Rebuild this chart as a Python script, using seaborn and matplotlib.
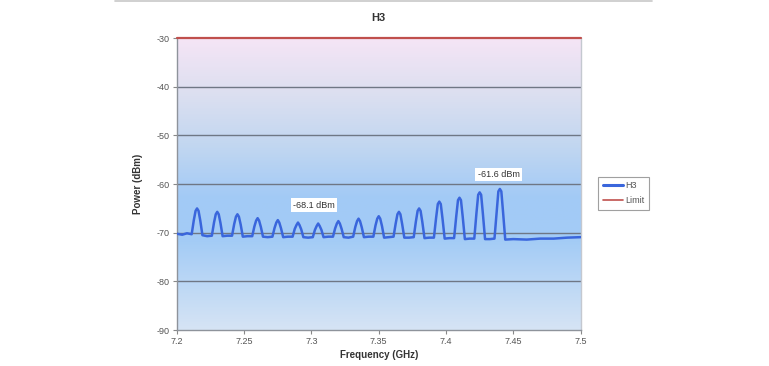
import numpy as np
import pandas as pd
import matplotlib
matplotlib.use("Agg")
import matplotlib.pyplot as plt
from matplotlib.colors import LinearSegmentedColormap
from matplotlib.lines import Line2D
import seaborn as sns

# H3 trace (GHz, dBm)
freq = [
    7.2000, 7.2040, 7.2075,
    7.2110, 7.2126, 7.2139, 7.2150, 7.2161, 7.2174, 7.2190, 7.2225,
    7.2260, 7.2276, 7.2289, 7.2300, 7.2311, 7.2324, 7.2340, 7.2375,
    7.2410, 7.2426, 7.2439, 7.2450, 7.2461, 7.2474, 7.2490, 7.2525,
    7.2560, 7.2576, 7.2589, 7.2600, 7.2611, 7.2624, 7.2640, 7.2675,
    7.2710, 7.2726, 7.2739, 7.2750, 7.2761, 7.2774, 7.2790, 7.2825,
    7.2860, 7.2876, 7.2889, 7.2900, 7.2911, 7.2924, 7.2940, 7.2975,
    7.3010, 7.3026, 7.3039, 7.3050, 7.3061, 7.3074, 7.3090, 7.3125,
    7.3160, 7.3176, 7.3189, 7.3200, 7.3211, 7.3224, 7.3240, 7.3275,
    7.3310, 7.3326, 7.3339, 7.3350, 7.3361, 7.3374, 7.3390, 7.3425,
    7.3460, 7.3476, 7.3489, 7.3500, 7.3511, 7.3524, 7.3540, 7.3575,
    7.3610, 7.3626, 7.3639, 7.3650, 7.3661, 7.3674, 7.3690, 7.3725,
    7.3760, 7.3776, 7.3789, 7.3800, 7.3811, 7.3824, 7.3840, 7.3875,
    7.3910, 7.3926, 7.3939, 7.3950, 7.3961, 7.3974, 7.3990, 7.4025,
    7.4060, 7.4076, 7.4089, 7.4100, 7.4111, 7.4124, 7.4140, 7.4175,
    7.4210, 7.4226, 7.4239, 7.4250, 7.4261, 7.4274, 7.4290, 7.4325,
    7.4360, 7.4376, 7.4389, 7.4400, 7.4411, 7.4424, 7.4440,
    7.4500, 7.4600, 7.4700, 7.4800, 7.4900, 7.5000,
]
power = [
    -70.2, -70.4, -70.1,
    -70.3, -67.4, -65.5, -65.0, -65.5, -67.5, -70.5, -70.7,
    -70.6, -67.9, -66.2, -65.7, -66.2, -68.0, -70.7, -70.6,
    -70.6, -68.2, -66.7, -66.2, -66.7, -68.3, -70.8, -70.7,
    -70.7, -68.7, -67.5, -67.0, -67.5, -68.8, -70.8, -70.9,
    -70.8, -69.0, -67.9, -67.4, -67.9, -69.1, -70.9, -70.8,
    -70.8, -69.2, -68.4, -67.9, -68.4, -69.3, -70.9, -71.0,
    -70.9, -69.4, -68.6, -68.1, -68.6, -69.4, -70.9, -70.8,
    -70.8, -69.1, -68.1, -67.6, -68.1, -69.2, -70.9, -71.0,
    -70.8, -68.8, -67.6, -67.1, -67.6, -68.9, -70.9, -70.8,
    -70.8, -68.5, -67.1, -66.6, -67.1, -68.6, -71.0, -70.9,
    -70.8, -68.1, -66.2, -65.7, -66.2, -68.2, -71.0, -71.0,
    -70.9, -67.7, -65.5, -65.0, -65.5, -67.8, -71.1, -71.0,
    -71.0, -67.0, -64.1, -63.6, -64.1, -67.1, -71.2, -71.1,
    -71.1, -66.6, -63.3, -62.8, -63.3, -66.7, -71.3, -71.2,
    -71.2, -66.0, -62.2, -61.7, -62.2, -66.1, -71.3, -71.3,
    -71.2, -65.7, -61.5, -61.0, -61.5, -65.8, -71.4,
    -71.3, -71.4, -71.2, -71.2, -71.0, -70.9,
]
limit_freq = [7.2, 7.5]
limit_power = [-30, -30]

x_ticks = [7.2, 7.25, 7.3, 7.35, 7.4, 7.45, 7.5]
x_tick_labels = ["7.2", "7.25", "7.3", "7.35", "7.4", "7.45", "7.5"]
y_ticks = [-90, -80, -70, -60, -50, -40, -30]

notes = [("-68.1 dBm", 7.2865, -64.3), ("-61.6 dBm", 7.4235, -58.0)]

trace = pd.DataFrame({"Frequency": freq, "Power": power})
limit = pd.DataFrame({"Frequency": limit_freq, "Power": limit_power})

sns.set_style("white")
plt.rcParams["font.family"] = ["Liberation Sans", "DejaVu Sans"]
plt.rcParams["axes.unicode_minus"] = False

fig = plt.figure(figsize=(7.69, 3.66), dpi=100)
ax = fig.add_axes([0.230, 0.098, 0.525, 0.798])

# background gradient (pink at top -> blue -> pale blue at bottom)
bg = LinearSegmentedColormap.from_list("bg", [
    (0.00, "#d6e4f4"), (0.30, "#a4ccf6"), (0.45, "#a2caf6"),
    (0.62, "#c0d6f1"), (0.80, "#dbdff0"), (1.00, "#f6e5f6")])
ax.imshow(np.linspace(0, 1, 256).reshape(-1, 1), cmap=bg, aspect="auto",
          extent=[7.2, 7.5, -90, -30], origin="lower", zorder=0)

for yv in y_ticks[1:-1]:
    ax.axhline(yv, color="#6f7785", lw=1.0, zorder=1)

sns.lineplot(data=trace, x="Frequency", y="Power", ax=ax, color="#3a66dc",
             lw=1.8, sort=False, zorder=3)
sns.lineplot(data=limit, x="Frequency", y="Power", ax=ax, color="#c0504d",
             lw=1.6, zorder=4, clip_on=False)

for text, xv, yv in notes:
    ax.text(xv, yv, text, fontsize=6.5, color="#333333", va="center", ha="left",
            bbox=dict(boxstyle="square,pad=0.25", fc="white", ec="none"), zorder=5)

ax.set_xlim(7.2, 7.5)
ax.set_ylim(-90, -30)
ax.set_xticks(x_ticks)
ax.set_xticklabels(x_tick_labels)
ax.set_yticks(y_ticks)
ax.tick_params(axis="both", labelsize=6.5, labelcolor="#555555", length=3,
               color="#888888", width=0.8, direction="out", pad=2,
               bottom=True, left=True)
for name, sp in ax.spines.items():
    sp.set_color("#8e939b")
    sp.set_linewidth(1.0)
ax.spines["right"].set_color("#c4c8d0")
ax.spines["top"].set_visible(False)

ax.set_xlabel("Frequency (GHz)", fontsize=7, fontweight="bold", color="#333333", labelpad=3)
ax.set_ylabel("Power (dBm)", fontsize=7, fontweight="bold", color="#333333", labelpad=10)
ax.set_title("H3", fontsize=8, fontweight="bold", color="#333333", pad=12)

handles = [Line2D([], [], color="#3a66dc", lw=2.2), Line2D([], [], color="#c0504d", lw=1.2)]
leg = fig.legend(handles, ["H3", "Limit"], loc="center left",
                 bbox_to_anchor=(0.772, 0.472), fontsize=6.5, frameon=True,
                 fancybox=False, handlelength=2.2, handletextpad=0.3,
                 borderpad=0.5, labelspacing=0.7)
leg.get_frame().set_edgecolor("#888888")
leg.get_frame().set_linewidth(0.8)
for t in leg.get_texts():
    t.set_color("#555555")

# thin rule along the top of the page
fig.add_artist(Line2D([0.150, 0.848], [0.997, 0.997], color="#c8c8c8", lw=1.2,
                      transform=fig.transFigure))

fig.savefig("out.png", dpi=100)
